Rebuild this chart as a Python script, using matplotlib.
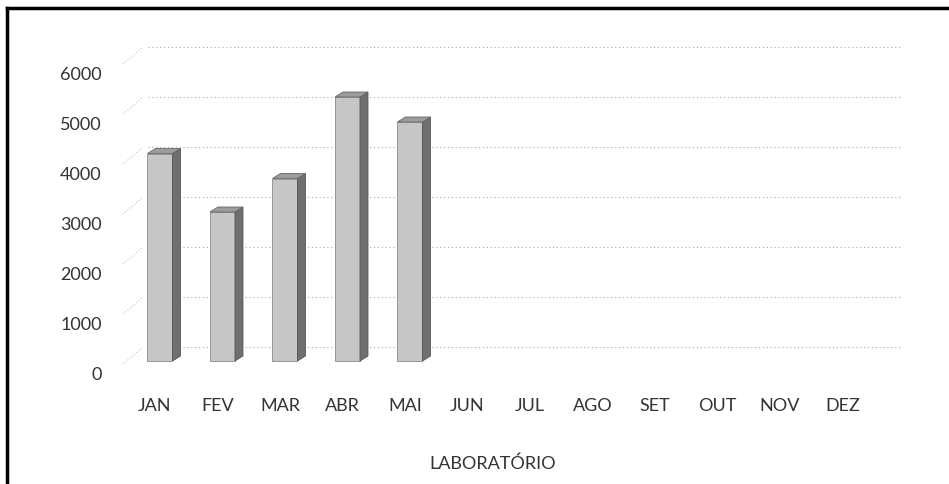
import matplotlib.pyplot as plt
from matplotlib.lines import Line2D
from matplotlib.patches import Polygon
from matplotlib.transforms import ScaledTranslation

months = ['JAN', 'FEV', 'MAR', 'ABR', 'MAI', 'JUN', 'JUL', 'AGO', 'SET', 'OUT', 'NOV', 'DEZ']
values = [4150, 2980, 3650, 5280, 4780]
yticks = [0, 1000, 2000, 3000, 4000, 5000, 6000]
xlabel = 'LABORATÓRIO'

plt.rcParams['font.family'] = ['Lato', 'DejaVu Sans']

fig = plt.figure(figsize=(9.49, 4.85), dpi=100)
ax = fig.add_axes([0.0632, 0.2165, 0.8957, 0.7216])
ax.set_xlim(-1.52, 12.08)
ax.set_ylim(-360, 6640)
for s in ax.spines.values():
    s.set_visible(False)
ax.set_yticks([])
ax.set_xticks(range(len(months)), months)
ax.tick_params(axis='x', length=0, pad=13, labelsize=13, labelcolor='#333333')

# back wall gridlines (3d look: shifted up)
back = 280
for v in yticks:
    ax.plot([-0.11, 11.95], [v + back, v + back], color='#a8a8a8', lw=0.8,
            ls=(0, (1, 2.5)))
    ax.plot([-0.51, -0.19], [v - 60, v + back], color='#b0b0b0', lw=0.7,
            ls=(0, (1, 2)))

# y tick labels sit on the front edge, a bit lower
off = ScaledTranslation(0, -13 / 100, fig.dpi_scale_trans)
for v in yticks:
    ax.text(-0.85, v, str(v), ha='right', va='center', fontsize=13,
            color='#333333', transform=ax.transData + off)

# 3d bars
w = 0.4
dx = 0.128
dy = 100
for i, v in enumerate(values):
    xl = i + 0.08 - w / 2
    xr = xl + w
    ax.bar(xl, v, width=w, align='edge', color='#c6c6c6', edgecolor='#8a8a8a',
           lw=0.6, zorder=3)
    ax.add_patch(Polygon([(xr, 0), (xr + dx, dy), (xr + dx, v + dy), (xr, v)],
                         closed=True, facecolor='#6f6f6f', edgecolor='#555555',
                         lw=0.6, zorder=3))
    ax.add_patch(Polygon([(xl, v), (xl + dx, v + dy), (xr + dx, v + dy), (xr, v)],
                         closed=True, facecolor='#9c9c9c', edgecolor='#666666',
                         lw=0.6, zorder=3))

fig.text(493 / 949, 1 - 464 / 485, xlabel, ha='center', va='center',
         fontsize=13, color='#333333')

# outer frame (left and top only)
fig.add_artist(Line2D([0.0074, 0.0074], [0, 0.981], color='black', lw=2.5,
                      transform=fig.transFigure))
fig.add_artist(Line2D([0.0074, 1], [0.981, 0.981], color='black', lw=2.5,
                      transform=fig.transFigure))

fig.savefig('out.png', dpi=100)
